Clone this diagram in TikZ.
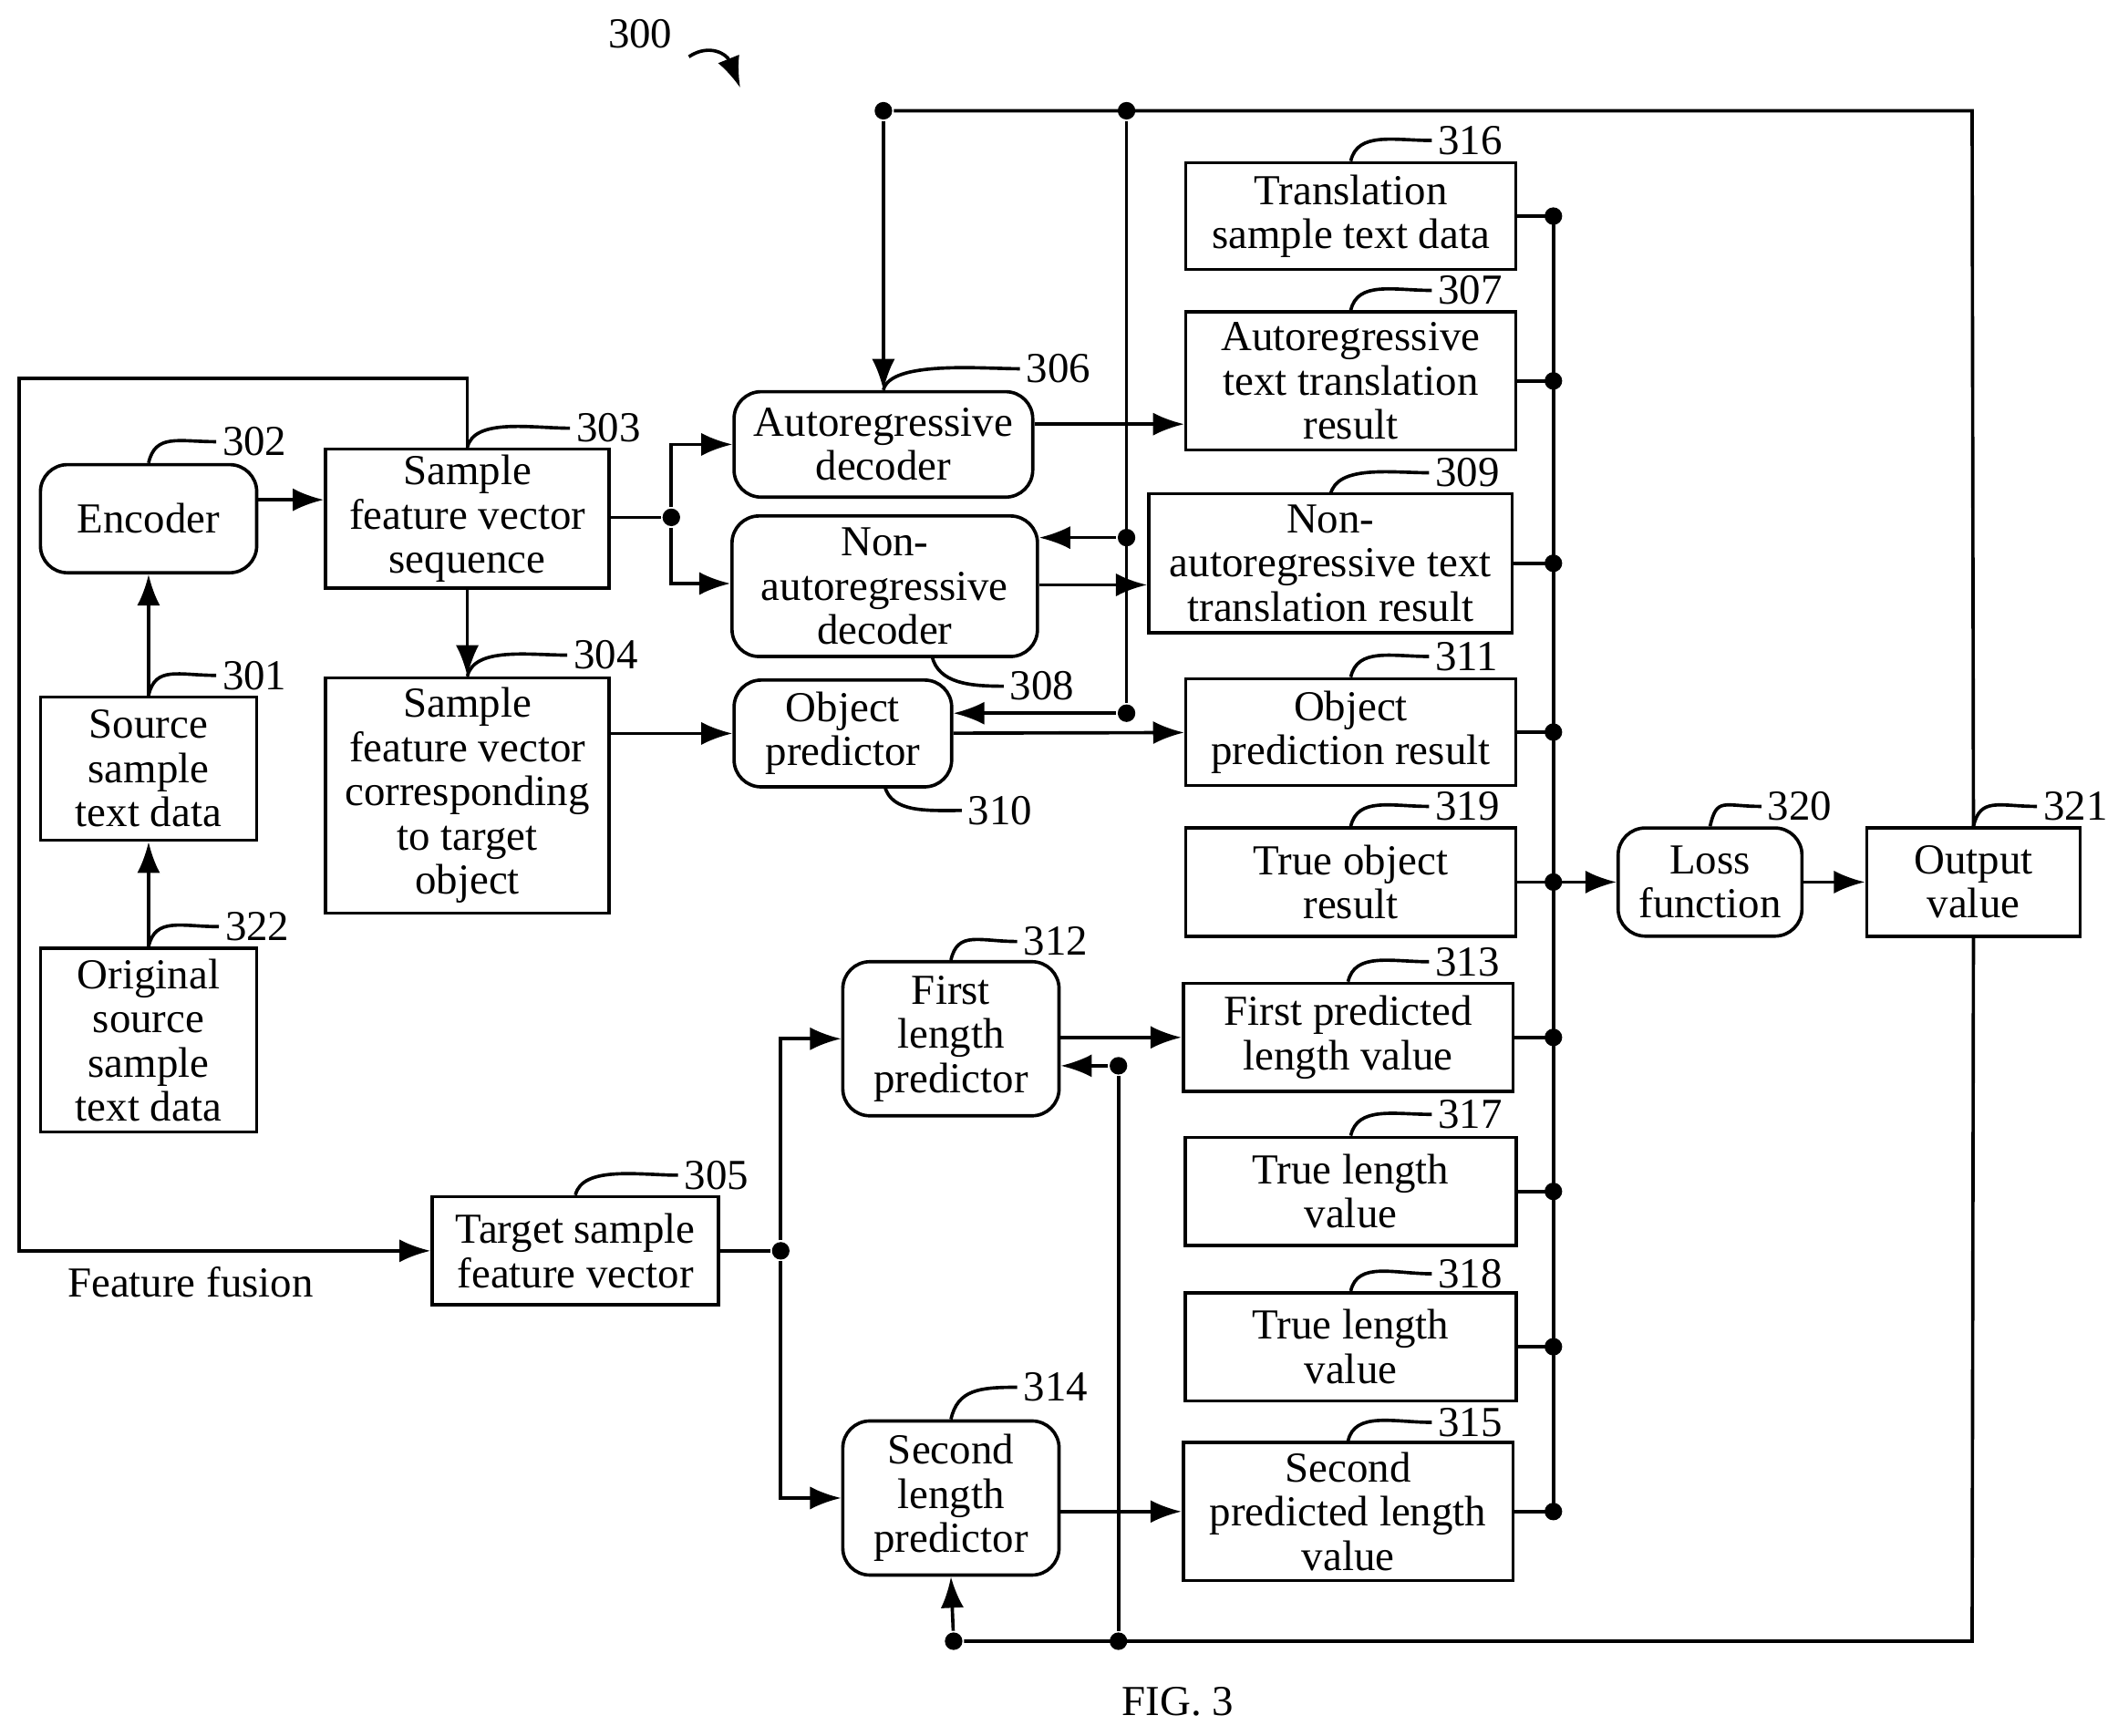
\documentclass[tikz,border=0pt]{standalone}
\usepackage{fontspec}
\setmainfont{Liberation Serif}
\usetikzlibrary{arrows.meta}
\newcommand\numpin[3]{\draw (#1) .. controls +(5,-22) and +(-28,0) .. (#2) node[right,inner sep=1pt]{#3};}
\begin{document}
\begin{tikzpicture}[x=0.01cm,y=-0.01cm,line width=0.7pt,font=\fontsize{9}{9.3}\selectfont,
  box/.style={draw,align=center,inner sep=0pt},
  rbox/.style={box,rounded corners=2mm},
  dot/.style={circle,fill,inner sep=0pt,minimum size=1.3mm},
  >={Latex[length=2.3mm,width=1.7mm]}]
  \useasboundingbox (0,0) rectangle (1568,1285);
  % left column
  \node[rbox,minimum width=1.6cm,minimum height=0.8cm] (enc) at (110,384) {Encoder};
  \node[box,minimum width=1.6cm,minimum height=1.06cm] (src) at (110,569) {Source\\sample\\text data};
  \node[box,minimum width=1.6cm,minimum height=1.36cm] (orig) at (110,770) {Original\\source\\sample\\text data};
  \node[box,minimum width=2.1cm,minimum height=1.03cm] (sfv) at (346,384) {Sample\\feature vector\\sequence};
  \node[box,minimum width=2.1cm,minimum height=1.74cm] (sfvt) at (346,589) {Sample\\feature vector\\corresponding\\to target\\object};
  \node[box,minimum width=2.12cm,minimum height=0.8cm] (tsfv) at (426,926) {Target sample\\feature vector};
  % middle column
  \node[rbox,minimum width=2.21cm,minimum height=0.78cm] (ard) at (654,329) {Autoregressive\\decoder};
  \node[rbox,minimum width=2.26cm,minimum height=1.04cm] (nard) at (655,434) {Non-\\autoregressive\\decoder};
  \node[rbox,minimum width=1.61cm,minimum height=0.79cm] (objp) at (624,543) {Object\\predictor};
  \node[rbox,minimum width=1.6cm,minimum height=1.14cm] (flp) at (704,769) {First\\length\\predictor};
  \node[rbox,minimum width=1.6cm,minimum height=1.14cm] (slp) at (704,1109) {Second\\length\\predictor};
  % results column
  \node[box,minimum width=2.44cm,minimum height=0.79cm] (trans) at (1000,160) {Translation\\sample text data};
  \node[box,minimum width=2.44cm,minimum height=1.02cm] (art) at (1000,282) {Autoregressive\\text translation\\result};
  \node[box,minimum width=2.69cm,minimum height=1.03cm] (nart) at (985,417) {Non-\\autoregressive text\\translation result};
  \node[box,minimum width=2.44cm,minimum height=0.79cm] (objr) at (1000,542) {Object\\prediction result};
  \node[box,minimum width=2.44cm,minimum height=0.8cm] (tobj) at (1000,653) {True object\\result};
  \node[box,minimum width=2.44cm,minimum height=0.8cm] (flv) at (998,768) {First predicted\\length value};
  \node[box,minimum width=2.45cm,minimum height=0.8cm] (tla) at (1000,882) {True length\\value};
  \node[box,minimum width=2.45cm,minimum height=0.8cm] (tlb) at (1000,997) {True length\\value};
  \node[box,minimum width=2.44cm,minimum height=1.02cm] (slv) at (998,1119) {Second\\predicted length\\value};
  \node[rbox,minimum width=1.36cm,minimum height=0.8cm] (loss) at (1266,653) {Loss\\function};
  \node[box,minimum width=1.58cm,minimum height=0.8cm] (out) at (1461,653) {Output\\value};
  % connectors
  \draw[->] (orig) -- (src);
  \draw[->] (src) -- (enc);
  \draw[->] (enc.east |- 0,370) -- (sfv.west |- 0,370);
  \node[dot] (d1) at (497,383) {};
  \draw (sfv.east |- d1) -- (d1);
  \draw[->] (d1) |- (ard.west);
  \draw[->] (d1) |- (nard.west |- 0,432);
  \draw[->] (sfv) -- (sfvt);
  \draw[->] (sfv.north) -- (346,280) -- (14,280) -- (14,926) -- (tsfv.west);
  \node at (141,949) {Feature fusion};
  \draw[->] (sfvt.east |- objp) -- (objp);
  \draw[->] (ard.east |- 0,314) -- (art.west |- 0,314);
  \draw[->] (nard.east |- 0,433) -- (nart.west |- 0,433);
  \draw[->] (objp) -- (objr);
  \node[dot] (d2) at (578,926) {};
  \draw (tsfv) -- (d2);
  \draw[->] (d2) |- (flp.west);
  \draw[->] (d2) |- (slp.west);
  \draw[->] (flp.east |- flv) -- (flv.west);
  \draw[->] (slp.east |- slv) -- (slv.west);
  % bus to loss
  \coordinate (busx) at (1150,0);
  \draw (trans.east -| busx) -- (slv.east -| busx);
  \foreach \n in {trans,art,nart,objr,tobj,flv,tla,tlb,slv}
    {\draw (\n.east) -- (\n.east -| busx) node[dot]{};}
  \draw[->] (tobj.east -| busx) -- (loss);
  \draw[->] (loss) -- (out);
  % feedback
  \node[dot] (f1) at (654,82) {};
  \node[dot] (f2) at (834,82) {};
  \node[dot] (f3) at (834,398) {};
  \node[dot] (f4) at (834,528) {};
  \draw (out.north) -- (1460,82) -- (f1);
  \draw[->] (f1) -- (ard.north);
  \draw (f2) -- (f4);
  \draw[->] (f3) -- (nard.east |- f3);
  \draw[->] (f4) -- (objp.east |- f4);
  \node[dot] (g1) at (706,1215) {};
  \node[dot] (g2) at (828,1215) {};
  \node[dot] (g3) at (828,789) {};
  \draw (out.south) -- (1460,1215) -- (g1);
  \draw[->] (g1) -- (slp.south);
  \draw (g2) -- (g3);
  \draw[->] (g3) -- (flp.east |- g3);
  % reference numbers
  \numpin{enc.north}{160,327}{302}
  \numpin{src.north}{160,500}{301}
  \numpin{orig.north}{162,686}{322}
  \numpin{sfv.north}{422,317}{303}
  \numpin{sfvt.north}{420,485}{304}
  \numpin{tsfv.north}{502,870}{305}
  \numpin{ard.north}{755,273}{306}
  \numpin{flp.north}{753,697}{312}
  \numpin{slp.north}{753,1027}{314}
  \numpin{trans.north}{1060,104}{316}
  \numpin{art.north}{1060,215}{307}
  \numpin{985,366}{1058,350}{309}
  \numpin{objr.north}{1058,486}{311}
  \numpin{tobj.north}{1058,597}{319}
  \numpin{flv.north}{1058,712}{313}
  \numpin{tla.north}{1060,825}{317}
  \numpin{tlb.north}{1060,943}{318}
  \numpin{slv.north}{1060,1053}{315}
  \numpin{loss.north}{1304,597}{320}
  \numpin{out.north}{1508,597}{321}
  \draw (690,486) .. controls +(5,20) and +(-25,0) .. (743,508) node[right,inner sep=1pt]{308};
  \draw (655,582) .. controls +(5,20) and +(-25,0) .. (712,600) node[right,inner sep=1pt]{310};
  \node at (474,25) {300};
  \draw[->] (510,42) .. controls (525,32) and (538,40) .. (548,65);
  \node at (872,1260) {FIG. 3};
\end{tikzpicture}
\end{document}
